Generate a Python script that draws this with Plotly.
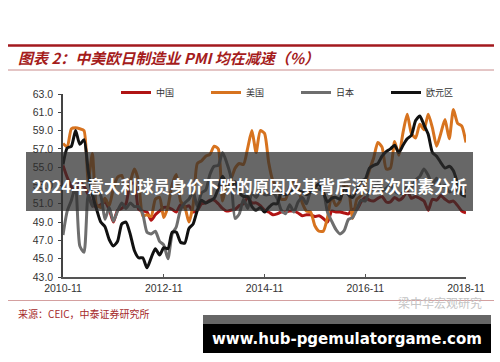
import plotly.graph_objects as go

# ---------------- data ----------------
start_year, start_month = 2010, 11
n_months = 97
month_labels = []
y, m = start_year, start_month
for _ in range(n_months):
    month_labels.append(f"{y}-{m:02d}")
    m += 1
    if m > 12:
        m = 1
        y += 1

tick_labels = ["2010-11", "2012-11", "2014-11", "2016-11", "2018-11"]
y_ticks = [43.0, 45.0, 47.0, 49.0, 51.0, 53.0, 55.0, 57.0, 59.0, 61.0, 63.0]

china = [55.2, 53.9,
         52.9, 52.2, 53.4, 52.9, 52.0, 50.9, 50.7, 50.9, 51.2, 50.4, 49.0, 50.3,
         50.5, 51.0, 53.1, 53.3, 50.4, 50.2, 50.1, 49.2, 49.8, 50.2, 50.6, 50.6,
         50.4, 50.1, 50.9, 50.6, 50.8, 50.1, 50.3, 51.0, 51.1, 51.4, 51.4, 51.0,
         50.5, 50.2, 50.3, 50.4, 50.8, 51.0, 51.7, 51.1, 51.1, 50.8, 50.3, 50.1,
         49.8, 49.9, 50.1, 50.1, 50.2, 50.2, 50.0, 49.7, 49.8, 49.8, 49.6, 49.7,
         49.4, 49.0, 50.2, 50.1, 50.1, 50.0, 49.9, 50.4, 50.4, 51.2, 51.7, 51.4,
         51.3, 51.6, 51.8, 51.2, 51.2, 51.7, 51.4, 51.7, 52.4, 51.6, 51.8, 51.6,
         51.3, 50.3, 51.5, 51.4, 51.9, 51.5, 51.2, 51.3, 50.8, 50.2, 50.0]

usa = [57.6, 57.2,
       59.2, 59.3, 59.2, 59.0, 53.5, 56.5, 50.9, 50.6, 51.6, 50.8, 52.7, 53.9,
       54.1, 52.4, 53.4, 54.8, 53.5, 49.7, 49.8, 49.6, 51.5, 51.7, 49.5, 50.7,
       53.1, 54.2, 51.3, 50.7, 49.0, 50.9, 55.4, 55.7, 56.2, 56.4, 57.3, 57.0,
       51.3, 53.2, 53.7, 54.9, 55.4, 55.3, 57.1, 59.0, 56.6, 59.0, 58.7, 55.5,
       53.5, 52.9, 51.5, 51.5, 52.8, 53.5, 52.7, 51.1, 50.2, 50.1, 48.6, 48.0,
       48.0, 49.5, 51.8, 50.8, 51.3, 53.2, 52.6, 49.4, 51.5, 51.9, 53.2, 54.7,
       56.0, 57.7, 57.2, 54.8, 54.9, 57.8, 56.3, 58.8, 60.8, 58.7, 58.2, 59.7,
       59.1, 60.8, 59.3, 57.3, 58.7, 60.2, 58.1, 61.3, 59.8, 59.5, 57.7]

japan = [47.6, 50.2,
         51.4, 52.9, 46.4, 45.7, 52.0, 50.7, 52.5, 51.9, 49.3, 50.6, 49.1, 50.2,
         51.1, 50.5, 51.1, 50.7, 50.7, 49.9, 47.9, 47.7, 48.0, 46.9, 46.5, 45.0,
         47.7, 48.5, 50.4, 51.1, 51.5, 52.3, 50.7, 52.2, 52.5, 54.2, 55.1, 55.2,
         56.6, 55.5, 53.9, 49.4, 49.9, 51.5, 50.5, 52.2, 51.7, 52.4, 52.0, 52.0,
         52.2, 51.6, 50.3, 49.9, 50.9, 50.1, 51.2, 51.7, 51.0, 52.4, 52.6, 52.6,
         52.3, 50.1, 49.1, 48.2, 47.7, 48.1, 49.3, 49.5, 50.4, 51.4, 51.3, 52.4,
         52.7, 53.3, 52.4, 52.7, 53.1, 52.4, 52.1, 52.2, 52.9, 52.8, 53.6, 54.0,
         54.8, 54.1, 53.1, 53.8, 52.8, 53.0, 52.3, 52.5, 52.5, 52.9, 52.2]

euro = [55.3, 57.1,
        57.3, 59.0, 57.5, 58.0, 54.6, 52.0, 50.4, 49.0, 48.5, 47.1, 46.4, 46.9,
        48.8, 49.0, 47.7, 45.9, 45.1, 45.1, 44.0, 45.1, 46.1, 45.4, 46.2, 46.1,
        47.9, 47.9, 46.8, 46.7, 48.3, 48.8, 50.3, 51.4, 51.1, 51.3, 51.6, 52.7,
        54.0, 53.2, 53.0, 53.4, 52.2, 51.8, 51.8, 50.7, 50.3, 50.6, 50.1, 50.6,
        51.0, 51.0, 52.2, 52.0, 52.2, 52.5, 52.4, 52.3, 52.0, 52.3, 52.8, 53.2,
        52.3, 51.2, 51.6, 51.7, 51.5, 52.8, 52.0, 51.7, 52.6, 53.5, 53.7, 54.9,
        55.2, 55.4, 56.2, 56.7, 57.0, 57.4, 56.6, 57.4, 58.1, 58.5, 60.1, 60.6,
        59.6, 58.6, 56.6, 56.2, 55.5, 54.9, 55.1, 54.6, 53.2, 52.0, 51.8]

series_names = ["中国", "美国", "日本", "欧元区"]
series_values = [china, usa, japan, euro]
series_colors = ["#B01414", "#D7731F", "#6E6E6E", "#111111"]

title_text = "图表 2：中美欧日制造业 PMI 均在减速（%）"
source_text = "来源：CEIC，中泰证券研究所"
watermark_text = "梁中华宏观研究"
banner_text = "2024年意大利球员身价下跌的原因及其背后深层次因素分析"
url_text = "www.hub-pgemulatorgame.com"

# ---------------- layout helpers ----------------
W, H = 500, 362
L, R, T, B = 63, 466, 94, 277


def px(x):
    return (x - L) / (R - L)


def py(y):
    return (B - y) / (B - T)


x_idx = list(range(n_months))
tick_vals = [month_labels.index(t) for t in tick_labels]

fig = go.Figure()
for name, vals, col in zip(series_names, series_values, series_colors):
    fig.add_trace(go.Scatter(
        x=x_idx, y=vals, name=name, mode="lines",
        line=dict(color=col, width=3, shape="spline", smoothing=0.6),
        customdata=month_labels, hovertemplate="%{customdata}: %{y}<extra>" + name + "</extra>",
    ))

shapes = [
    # title rules
    dict(type="line", xref="paper", yref="paper", x0=px(8), x1=px(494), y0=py(45.5), y1=py(45.5),
         line=dict(color="#A3191E", width=2.5)),
    dict(type="line", xref="paper", yref="paper", x0=px(8), x1=px(494), y0=py(70), y1=py(70),
         line=dict(color="#C98C8C", width=1)),
    dict(type="line", xref="paper", yref="paper", x0=px(8), x1=px(494), y0=py(300.5), y1=py(300.5),
         line=dict(color="#D4A0A0", width=1)),
    # overlay banner
    dict(type="rect", xref="paper", yref="paper", x0=px(26), x1=px(473), y0=py(152), y1=py(211),
         fillcolor="rgba(45,45,45,0.72)", line=dict(width=0), layer="above"),
    # url banner
    dict(type="rect", xref="paper", yref="paper", x0=px(203), x1=px(491), y0=py(315), y1=py(324),
         fillcolor="#666666", line=dict(width=0), layer="above"),
    dict(type="rect", xref="paper", yref="paper", x0=px(203), x1=px(491), y0=py(324), y1=py(353),
         fillcolor="#000000", line=dict(width=0), layer="above"),
]

annotations = [
    dict(text="<b><i>" + title_text + "</i></b>", xref="paper", yref="paper",
         x=px(16), y=py(57), xanchor="left", yanchor="middle", showarrow=False,
         font=dict(family="Noto Sans CJK SC", size=15, color="#A51C1C")),
    dict(text=source_text, xref="paper", yref="paper",
         x=px(16), y=py(313), xanchor="left", yanchor="middle", showarrow=False,
         font=dict(family="Noto Sans CJK SC", size=10, color="#A52A2A")),
    dict(text=watermark_text, xref="paper", yref="paper",
         x=px(396), y=py(302), xanchor="left", yanchor="middle", showarrow=False,
         font=dict(family="Noto Sans CJK SC", size=12, color="#C4C4C4")),
    dict(text="<b>" + banner_text + "</b>", xref="paper", yref="paper",
         x=px(249), y=py(186), xanchor="center", yanchor="middle", showarrow=False,
         font=dict(family="Noto Sans CJK SC", size=16.5, color="#FFFFFF")),
    dict(text="<b>" + url_text + "</b>", xref="paper", yref="paper",
         x=px(347), y=py(338.5), xanchor="center", yanchor="middle", showarrow=False,
         font=dict(family="DejaVu Sans", size=15, color="#FFFFFF")),
]

fig.update_layout(
    width=W, height=H,
    margin=dict(l=L, r=W - R, t=T, b=H - B, pad=0, autoexpand=False),
    paper_bgcolor="white", plot_bgcolor="white",
    showlegend=True,
    legend=dict(orientation="h", x=px(116), y=py(92.5), xanchor="left", yanchor="middle",
                entrywidth=45, entrywidthmode="pixels", itemwidth=30,
                font=dict(family="Noto Sans CJK SC", size=9, color="#333333"),
                bgcolor="rgba(0,0,0,0)", tracegroupgap=0),
    xaxis=dict(range=[0, 96], tickvals=tick_vals, ticktext=tick_labels,
               showgrid=False, zeroline=False, showline=True, linecolor="#555555", linewidth=1.8,
               ticks="inside", ticklen=3, tickcolor="#555555", ticklabelstandoff=0,
               tickfont=dict(family="Liberation Sans", size=10.5, color="#333333")),
    yaxis=dict(range=[43, 63], tickvals=y_ticks, ticktext=[f"{v:.1f}" for v in y_ticks],
               showgrid=False, zeroline=False, showline=True, linecolor="#444444", linewidth=1.5,
               ticks="outside", ticklen=3, tickcolor="#444444", ticklabelstandoff=3,
               tickfont=dict(family="Liberation Sans", size=10.5, color="#333333")),
    shapes=shapes, annotations=annotations,
)

fig.write_html("out.html", config={"displayModeBar": False},
               post_script="document.body.style.margin='0';document.body.style.overflow='hidden';")
